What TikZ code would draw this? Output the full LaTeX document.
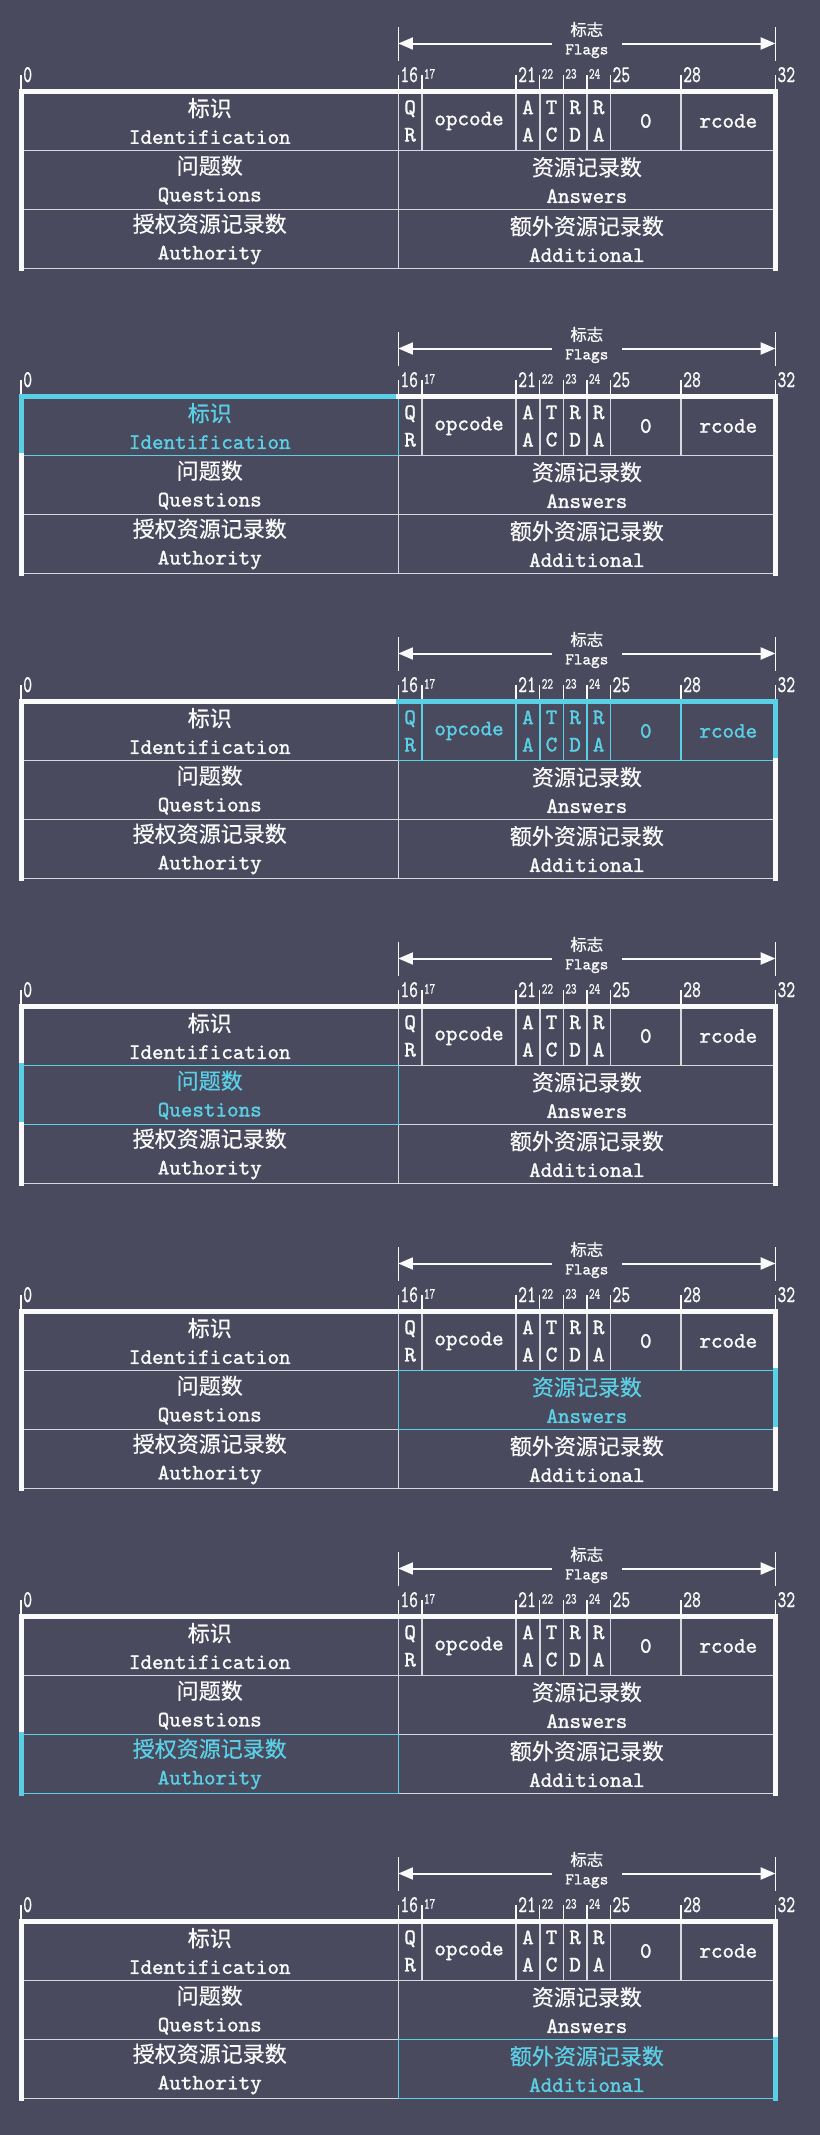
\documentclass[tikz,border=0pt]{standalone}
\usepackage{fontspec}
\usetikzlibrary{arrows.meta}
\newfontfamily\cjk{Noto Sans CJK SC}[FakeBold=0.6]
\newfontfamily\mono{lmmono10-regular.otf}[FakeBold=1.4]
\newfontfamily\numfont{lmmono10-regular.otf}[FakeStretch=0.7,FakeBold=0.8]
\definecolor{bgcol}{RGB}{74,74,94}
\definecolor{fgcol}{RGB}{250,250,250}
\definecolor{gridcol}{RGB}{215,215,222}
\definecolor{hicol}{RGB}{90,208,230}
\newcommand{\zh}[1]{{\cjk #1}}
% name, first bit, end bit, row, style, text
\newcommand{\field}[6]{%
  \node[cell,#5,minimum width={(#3-#2)*17.6775pt}] (#1\k)
    at ({21.2+23.57*(#2+#3)/2},{91.5+59*(#4-0.5)}) {#6};}
\pgfdeclarelayer{gridlayer}
\pgfsetlayers{gridlayer,main}

\begin{document}
\begin{tikzpicture}[x=0.75pt,y=-0.75pt,
  cell/.style={minimum height=44.25pt,inner sep=0pt,outer sep=0pt,align=center,
    line width=1.2pt,font=\fontsize{16.5pt}{20.5pt}\selectfont\mono},
  plain/.style={color=fgcol},
  hilite/.style={color=hicol,draw},
  rim/.style={line width=3.75pt,line cap=rect},
  gridline/.style={draw=gridcol,line width=1.2pt},
  tick/.style={draw=fgcol,line width=1.1pt},
  bignum/.style={text=fgcol,anchor=base west,inner sep=0pt,
    font=\fontsize{18pt}{18pt}\selectfont\numfont},
  smallnum/.style={text=fgcol,anchor=base west,inner sep=0pt,yshift=2.6pt,
    font=\fontsize{11.5pt}{12pt}\selectfont\numfont},
  flaglbl/.style={text=fgcol,align=center,inner xsep=10pt,inner ysep=0pt,
    font=\fontsize{12.3pt}{14pt}\selectfont\mono},
  flagarrow/.style={draw=fgcol,line width=1.5pt,-{Triangle[length=11pt,width=9pt]}}]
\useasboundingbox (0,0) rectangle (820,2135);
\begin{pgfonlayer}{gridlayer}
\fill[bgcol] (0,0) rectangle (820,2135);
\end{pgfonlayer}
\foreach \k/\sid/\sfl/\sqd/\san/\sns/\sar in {
  0/plain/plain/plain/plain/plain/plain,
  1/hilite/plain/plain/plain/plain/plain,
  2/plain/hilite/plain/plain/plain/plain,
  3/plain/plain/hilite/plain/plain/plain,
  4/plain/plain/plain/hilite/plain/plain,
  5/plain/plain/plain/plain/hilite/plain,
  6/plain/plain/plain/plain/plain/hilite}{
\begin{scope}[shift={(0,305*\k)}]
% flags bracket
\node[flaglbl] (flags\k) at (586.8,40) {\zh{标志}\\Flags};
\coordinate (fl\k) at (398.3,43.5);
\coordinate (fr\k) at (775.4,43.5);
\draw[tick] (fl\k) ++(0,-16.5) -- ++(0,34);
\draw[tick] (fr\k) ++(0,-16.5) -- ++(0,34);
\draw[flagarrow] (flags\k.west |- fl\k) -- (fl\k);
\draw[flagarrow] (flags\k.east |- fr\k) -- (fr\k);
% bit numbers
\foreach \b/\sz in {0/bignum,16/bignum,17/smallnum,21/bignum,22/smallnum,
    23/smallnum,24/smallnum,25/bignum,28/bignum,32/bignum}{
  \draw[tick] (21.2+23.57*\b,91.5) -- ++(0,-16.5);
  \node[\sz] (lbl\b-\k) at (23+23.57*\b,82) {\b};
}
% header fields
\field{id}{0}{16}{1}{\sid}{\zh{标识}\\Identification}
\field{qr}{16}{17}{1}{\sfl}{Q\\R}
\field{op}{17}{21}{1}{\sfl}{opcode}
\field{aa}{21}{22}{1}{\sfl}{A\\A}
\field{tc}{22}{23}{1}{\sfl}{T\\C}
\field{rd}{23}{24}{1}{\sfl}{R\\D}
\field{ra}{24}{25}{1}{\sfl}{R\\A}
\field{zr}{25}{28}{1}{\sfl}{0}
\field{rc}{28}{32}{1}{\sfl}{rcode}
\field{qd}{0}{16}{2}{\sqd}{\zh{问题数}\\Questions}
\field{an}{16}{32}{2}{\san}{\zh{资源记录数}\\Answers}
\field{ns}{0}{16}{3}{\sns}{\zh{授权资源记录数}\\Authority}
\field{ar}{16}{32}{3}{\sar}{\zh{额外资源记录数}\\Additional}
% thin grid
\begin{pgfonlayer}{gridlayer}
\foreach \n in {id,qr,op,aa,tc,rd,ra,zr,rc,qd,an,ns,ar}
  \draw[gridline] (\n\k.north west) rectangle (\n\k.south east);
\end{pgfonlayer}
% heavy outline
\draw[rim,\sid] (id\k.north west) -- (id\k.north east);
\draw[rim,\sfl] (qr\k.north west) -- (rc\k.north east);
\draw[rim,\sid] (id\k.north west) -- (id\k.south west);
\draw[rim,\sqd] (qd\k.north west) -- (qd\k.south west);
\draw[rim,\sns] (ns\k.north west) -- (ns\k.south west);
\draw[rim,\sfl] (rc\k.north east) -- (rc\k.south east);
\draw[rim,\san] (an\k.north east) -- (an\k.south east);
\draw[rim,\sar] (ar\k.north east) -- (ar\k.south east);
\end{scope}
}
\end{tikzpicture}
\end{document}
